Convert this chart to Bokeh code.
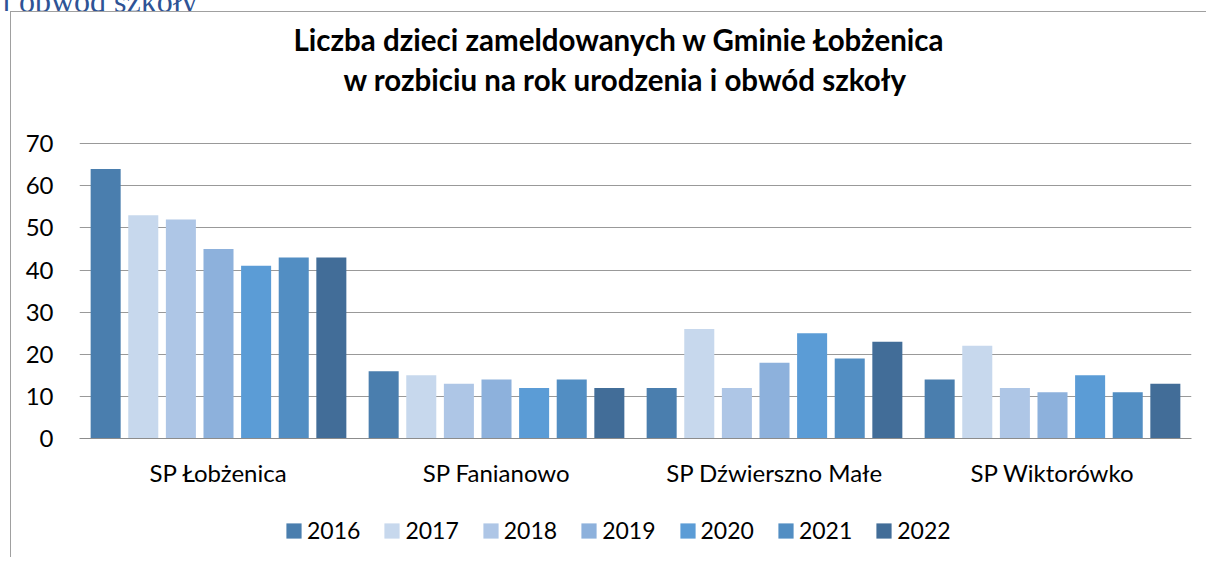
from bokeh.plotting import figure
from bokeh.layouts import column
from bokeh.models import ColumnDataSource, FactorRange, Range1d, Title, Legend, LegendItem, Div
from bokeh.transform import dodge
from bokeh.embed import file_html
from bokeh.resources import INLINE

schools = ["SP Łobżenica", "SP Fanianowo", "SP Dźwierszno Małe", "SP Wiktorówko"]
years = ["2016", "2017", "2018", "2019", "2020", "2021", "2022"]
v2016 = [64, 16, 12, 14]
v2017 = [53, 15, 26, 22]
v2018 = [52, 13, 12, 12]
v2019 = [45, 14, 18, 11]
v2020 = [41, 12, 25, 15]
v2021 = [43, 14, 19, 11]
v2022 = [43, 12, 23, 13]
colors = ["#4a7eae", "#c7d8ed", "#aec6e6", "#8db1dc", "#5b9cd6", "#528ec3", "#426d98"]
y_ticks = [0, 10, 20, 30, 40, 50, 60, 70]
title_line1 = "Liczba dzieci zameldowanych w Gminie Łobżenica"
title_line2 = "w rozbiciu na rok urodzenia i obwód szkoły"
heading_fragment = "i obwód szkoły"

FONT = "Lato"

source = ColumnDataSource(dict(school=schools, y2016=v2016, y2017=v2017, y2018=v2018,
                               y2019=v2019, y2020=v2020, y2021=v2021, y2022=v2022))

p = figure(width=1195, height=490, x_range=FactorRange(factors=schools),
           y_range=Range1d(0, 70.3), output_backend="svg", toolbar_location=None,
           title=" ",
           min_border_left=68, min_border_right=15, min_border_top=0, min_border_bottom=64)

# outermost spacer at the very top
p.title.text_font_size = "1px"
p.title.standoff = 3

# items in p.above: first added sits closest to the plot frame
spacer = Title(text=" ", text_font_size="1px", standoff=41)
p.add_layout(spacer, "above")
t2 = Title(text=title_line2, text_font=FONT, text_font_size="29.5px", text_font_style="bold",
           align="left", offset=264, text_color="#000000", standoff=3)
p.add_layout(t2, "above")
t1 = Title(text=title_line1, text_font=FONT, text_font_size="29.5px", text_font_style="bold",
           align="left", offset=214, text_color="#000000", standoff=3)
p.add_layout(t1, "above")

pitch = 0.1353
width = 0.108
for i, (yr, col) in enumerate(zip(years, colors)):
    p.vbar(x=dodge("school", (i - 3) * pitch, range=p.x_range), top="y" + yr,
           width=width, source=source, fill_color=col, line_color=None)

p.yaxis.ticker = y_ticks
p.yaxis.axis_line_color = None
p.yaxis.major_tick_line_color = None
p.yaxis.minor_tick_line_color = None
p.yaxis.major_tick_out = 0
p.yaxis.major_label_standoff = 26
p.yaxis.major_label_text_font = FONT
p.yaxis.major_label_text_font_size = "24px"
p.yaxis.major_label_text_color = "#000000"

p.xaxis.axis_line_color = "#8c8c8c"
p.xaxis.axis_line_width = 1
p.xaxis.major_tick_line_color = None
p.xaxis.minor_tick_line_color = None
p.xaxis.major_tick_out = 0
p.xaxis.major_label_standoff = 19
p.xaxis.major_label_text_font = FONT
p.xaxis.major_label_text_font_size = "24px"
p.xaxis.major_label_text_color = "#000000"

p.xgrid.grid_line_color = None
p.ygrid.grid_line_color = "#999999"
p.ygrid.grid_line_width = 1
p.outline_line_color = None
p.background_fill_color = "white"
p.border_fill_color = "white"

# legend strip below the chart (zero-size proxy glyphs only carry the colours)
lf = figure(width=1195, height=55, x_range=Range1d(0, 1), y_range=Range1d(0, 1),
            x_axis_location=None, y_axis_location=None, min_border=0,
            toolbar_location=None, output_backend="svg")
lf.grid.visible = False
lf.outline_line_color = None
lf.background_fill_color = "white"
lf.border_fill_color = "white"
items = []
for yr, col in zip(years, colors):
    r = lf.vbar(x=[0], top=[0], bottom=[0], width=0, fill_color=col, line_color=None)
    items.append(LegendItem(label=yr, renderers=[r]))
legend = Legend(items=items, orientation="horizontal", location=(205, 13),
                glyph_width=19, glyph_height=19, label_standoff=4, spacing=22,
                label_text_font=FONT, label_text_font_size="23px", label_text_color="#000000",
                border_line_color=None, background_fill_alpha=0, padding=0, margin=0)
lf.add_layout(legend)

chart = column(p, lf, spacing=0, margin=(0, 0, 0, 10),
               styles={"border-left": "1px solid #a0a0a0", "border-top": "1px solid #a0a0a0"})

# cut-off document heading above the chart frame
heading = Div(text=('<div style="font-family: \'Liberation Serif\', serif; font-size: 32px; '
                    'line-height: 32px; color: #2e5395; white-space: nowrap; '
                    'margin: -23px 0 0 2px;">' + heading_fragment + '</div>'),
              width=400, height=11, margin=0, styles={"overflow": "hidden"})

layout = column(heading, chart, spacing=0, margin=0)

open("out.html", "w").write(file_html(layout, INLINE))
